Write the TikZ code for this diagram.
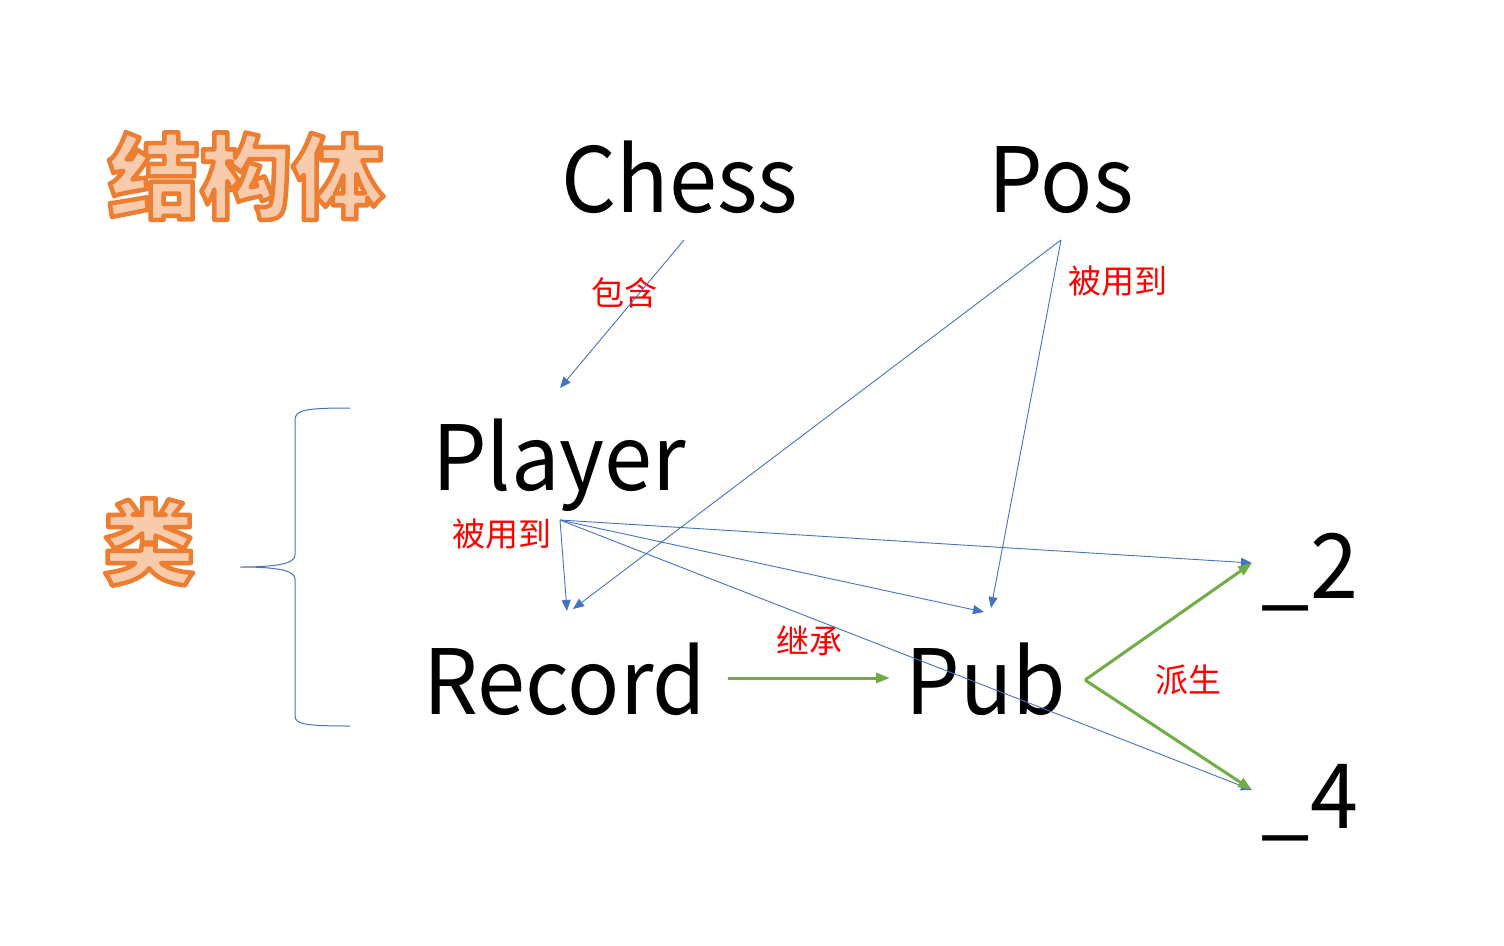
\documentclass[tikz,border=0pt]{standalone}
\usepackage{fontspec}
\setmainfont{Noto Sans CJK SC}
\newfontfamily\wordfont{Noto Sans CJK SC}[FakeStretch=0.96]
\usetikzlibrary{arrows.meta, positioning}
\definecolor{linkblue}{HTML}{4472C4}
\definecolor{kingreen}{HTML}{70AD47}
\definecolor{hintorange}{HTML}{ED7D31}
\definecolor{peach}{HTML}{F8CBAD}
% outlined heading text: fill peach, stroke orange
\newcommand{\Hollow}[1]{\textcolor{peach}{\bfseries
	\special{pdf:literal direct 2 Tr 4.5 w 1 j 0.929 0.490 0.192 RG}#1\special{pdf:literal direct 0 Tr}}}

\begin{document}
\begin{tikzpicture}[x=1pt, y=-1pt,
		bigword/.style={font=\wordfont\fontsize{90}{96}\selectfont, inner sep=0pt, anchor=base},
		headword/.style={font=\fontsize{92}{100}\selectfont, inner sep=0pt},
		redtag/.style={font=\fontsize{33}{36}\selectfont, text=red, inner sep=0pt},
		uses/.style={-{Triangle[length=11pt, width=9pt]}, draw=linkblue, line width=0.9pt},
		inherits/.style={-{Triangle[length=14pt, width=10pt]}, draw=kingreen, line width=3pt},
	]
		\useasboundingbox (0,0) rectangle (1504,945);

		%Nodes
		\node (struct) [headword] at (246,176) {\Hollow{结构体}};
		\node (klass) [headword] at (149,542) {\Hollow{类}};

		\node (chess) [bigword] at (680,212) {Chess};
		\node (pos) [bigword] at (1061,212) {Pos};
		\node (player) [bigword] at (559,490) {Player};
		\node (record) [bigword] at (565,714) {Record};
		\node (pub) [bigword] at (986,714) {Pub};
		\node (two) [bigword] at (1310,598) {\_2};
		\node (four) [bigword] at (1310,828) {\_4};

		\node (contain) [redtag] at (624,293) {包含};
		\node (posuse) [redtag] at (1118,281) {被用到};
		\node (playeruse) [redtag] at (502,534) {被用到};
		\node (inherit) [redtag] at (809,641) {继承};
		\node (derive) [redtag] at (1188,680) {派生};

		%Ends
		\coordinate (chess-foot) at (684,240);
		\coordinate (pos-foot) at (1061,240);
		\coordinate (player-foot) at (560,520);
		\coordinate (record-top) at (567,611);
		\coordinate (record-top2) at (573,609);
		\coordinate (pub-top) at (984,612);
		\coordinate (pub-top2) at (991,608);
		\coordinate (player-top) at (560,388);
		\coordinate (two-in) at (1252,563);
		\coordinate (four-in) at (1252,790);
		\coordinate (record-out) at (728,678);
		\coordinate (pub-in) at (890,678);
		\coordinate (pub-out) at (1085,680);

		%Lines
		\draw[linkblue, line width=1pt] (350,408) .. controls (305,408) and (295,410) .. (295,420) -- (295,555)
			.. controls (295,564) and (275,567) .. (240,567) .. controls (275,567) and (295,570) .. (295,579)
			-- (295,716) .. controls (295,724) and (305,726) .. (350,726);

		\draw[uses] (chess-foot) -- (player-top);
		\draw[uses] (pos-foot) -- (record-top2);
		\draw[uses] (pos-foot) -- (pub-top2);
		\draw[uses] (player-foot) -- (record-top);
		\draw[uses] (player-foot) -- (pub-top);
		\draw[uses] (player-foot) -- (two-in);
		\draw[uses] (player-foot) -- (four-in);

		\draw[inherits] (record-out) -- (pub-in);
		\draw[inherits] (pub-out) -- (two-in);
		\draw[inherits] (pub-out) -- (four-in);
	\end{tikzpicture}
\end{document}
